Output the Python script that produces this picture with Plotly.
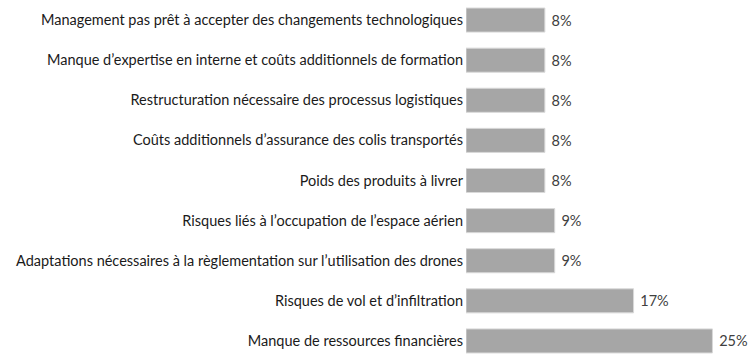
import plotly.graph_objects as go

categories = [
    "Management pas prêt à accepter des changements technologiques",
    "Manque d’expertise en interne et coûts additionnels de formation",
    "Restructuration nécessaire des processus logistiques",
    "Coûts additionnels d’assurance des colis transportés",
    "Poids des produits à livrer",
    "Risques liés à l’occupation de l’espace aérien",
    "Adaptations nécessaires à la règlementation sur l’utilisation des drones",
    "Risques de vol et d’infiltration",
    "Manque de ressources financières",
]
values = [8, 8, 8, 8, 8, 9, 9, 17, 25]
labels = [f"\u00a0{v}%" for v in values]

FONT = "Lato"

fig = go.Figure(
    go.Bar(
        x=values,
        y=categories,
        orientation="h",
        marker=dict(color="#a6a6a6", line=dict(color="#d9d9d9", width=1)),
        text=labels,
        textposition="outside",
        textfont=dict(family=FONT, size=14.5, color="#404040"),
        cliponaxis=False,
        hoverinfo="skip",
    )
)

fig.update_layout(
    width=754,
    height=361,
    margin=dict(l=466, r=12, t=0, b=0, autoexpand=False),
    paper_bgcolor="white",
    plot_bgcolor="white",
    bargap=0.4,
    showlegend=False,
    font=dict(family=FONT, size=14.5, color="#1a1a1a"),
)
fig.update_xaxes(range=[0, 28], visible=False, showgrid=False, zeroline=False,
                 automargin=False)
fig.update_yaxes(
    autorange="reversed",
    showgrid=False,
    zeroline=False,
    showline=False,
    ticks="",
    automargin=False,
    ticklabelstandoff=2,
    tickfont=dict(family=FONT, size=14.5, color="#1a1a1a"),
)

fig.write_html(
    "out.html",
    config={"displayModeBar": False},
    post_script="document.body.style.margin='0px';document.body.style.overflow='hidden';",
)
